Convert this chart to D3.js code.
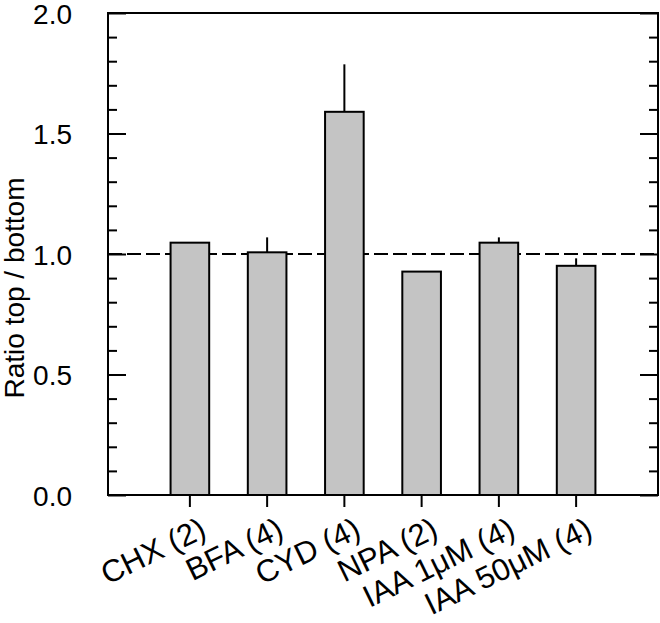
<!DOCTYPE html>
<html>
<head>
<meta charset="utf-8">
<script src="https://cdn.jsdelivr.net/npm/d3@7"></script>
<style>
  body { margin: 0; background: #fff; }
  text { font-family: "Liberation Sans", Arial, sans-serif; fill: #000; }
</style>
</head>
<body>
<div class="chart"></div>
<script>
var svgWidth = 660;
var svgHeight = 623;

var margin = { top: 13, right: 2, bottom: 128, left: 108 };
var width = svgWidth - margin.left - margin.right;
var height = svgHeight - margin.top - margin.bottom;

// data
var treatments = ["CHX (2)", "BFA (4)", "CYD (4)", "NPA (2)", "IAA 1\u03bcM (4)", "IAA 50\u03bcM (4)"];
var ratios = [1.047, 1.007, 1.590, 0.927, 1.047, 0.951];
var errors = [0, 0.062, 0.197, 0, 0.022, 0.031];
var majorTicks = [0, 0.5, 1.0, 1.5, 2.0];
var minorTicks = [0.1, 0.2, 0.3, 0.4, 0.6, 0.7, 0.8, 0.9, 1.1, 1.2, 1.3, 1.4, 1.6, 1.7, 1.8, 1.9];
var refLine = 1.0;

var svg = d3.select(".chart")
  .append("svg")
  .attr("width", svgWidth)
  .attr("height", svgHeight);

var chartGroup = svg.append("g")
  .attr("transform", `translate(${margin.left}, ${margin.top})`);

var xScale = d3.scaleBand()
  .domain(treatments)
  .range([0, width])
  .paddingInner(0.5)
  .paddingOuter(0.81);

var yScale = d3.scaleLinear()
  .domain([0, 2])
  .range([height, 0]);

var rows = treatments.map((t, i) => ({ name: t, value: ratios[i], err: errors[i] }));

// reference line at 1.0
chartGroup.append("line")
  .attr("x1", 0)
  .attr("x2", width)
  .attr("y1", yScale(refLine))
  .attr("y2", yScale(refLine))
  .attr("stroke", "#000")
  .attr("stroke-width", 2)
  .attr("stroke-dasharray", "14,5");

// error bars (upper only)
chartGroup.selectAll(".err")
  .data(rows.filter(d => d.err > 0))
  .enter()
  .append("line")
  .attr("class", "err")
  .attr("x1", d => xScale(d.name) + xScale.bandwidth() / 2)
  .attr("x2", d => xScale(d.name) + xScale.bandwidth() / 2)
  .attr("y1", d => yScale(d.value))
  .attr("y2", d => yScale(d.value + d.err))
  .attr("stroke", "#000")
  .attr("stroke-width", 2);

// bars
chartGroup.selectAll(".bar")
  .data(rows)
  .enter()
  .append("rect")
  .attr("class", "bar")
  .attr("x", d => xScale(d.name))
  .attr("y", d => yScale(d.value))
  .attr("width", xScale.bandwidth())
  .attr("height", d => height - yScale(d.value))
  .attr("fill", "#c4c4c4")
  .attr("stroke", "#000")
  .attr("stroke-width", 2);

// left axis, ticks pointing inward
var leftMajor = chartGroup.append("g")
  .call(d3.axisLeft(yScale).tickValues(majorTicks).tickSize(-18).tickPadding(36)
    .tickFormat(d3.format(".1f")));
var leftMinor = chartGroup.append("g")
  .call(d3.axisLeft(yScale).tickValues(minorTicks).tickSize(-9).tickFormat(""));

// right axis, mirrored ticks
var rightMajor = chartGroup.append("g")
  .attr("transform", `translate(${width}, 0)`)
  .call(d3.axisRight(yScale).tickValues(majorTicks).tickSize(-18).tickFormat(""));
var rightMinor = chartGroup.append("g")
  .attr("transform", `translate(${width}, 0)`)
  .call(d3.axisRight(yScale).tickValues(minorTicks).tickSize(-9).tickFormat(""));

// bottom axis
var xAxis = chartGroup.append("g")
  .attr("transform", `translate(0, ${height})`)
  .call(d3.axisBottom(xScale).tickSize(12).tickSizeOuter(0));

[leftMajor, leftMinor, rightMajor, rightMinor, xAxis].forEach(function(g) {
  g.select(".domain").remove();
  g.selectAll("line").attr("stroke", "#000").attr("stroke-width", 2);
  g.selectAll("text").style("font-size", "28px").attr("fill", "#000");
});

// slanted category labels
xAxis.selectAll("text")
  .style("font-size", "31px")
  .attr("text-anchor", "end")
  .attr("dy", "0.75em")
  .attr("y", 0)
  .attr("x", 0)
  .attr("transform", "translate(8, 20) rotate(-26)");

leftMajor.selectAll("text").attr("dy", "0.36em");

// frame
chartGroup.append("rect")
  .attr("x", 0)
  .attr("y", 0)
  .attr("width", width)
  .attr("height", height)
  .attr("fill", "none")
  .attr("stroke", "#000")
  .attr("stroke-width", 2);

// y axis title
chartGroup.append("text")
  .attr("transform", "rotate(-90)")
  .attr("x", 0 - 275)
  .attr("y", 24 - margin.left)
  .attr("text-anchor", "middle")
  .style("font-size", "28px")
  .text("Ratio top / bottom");
</script>
</body>
</html>
